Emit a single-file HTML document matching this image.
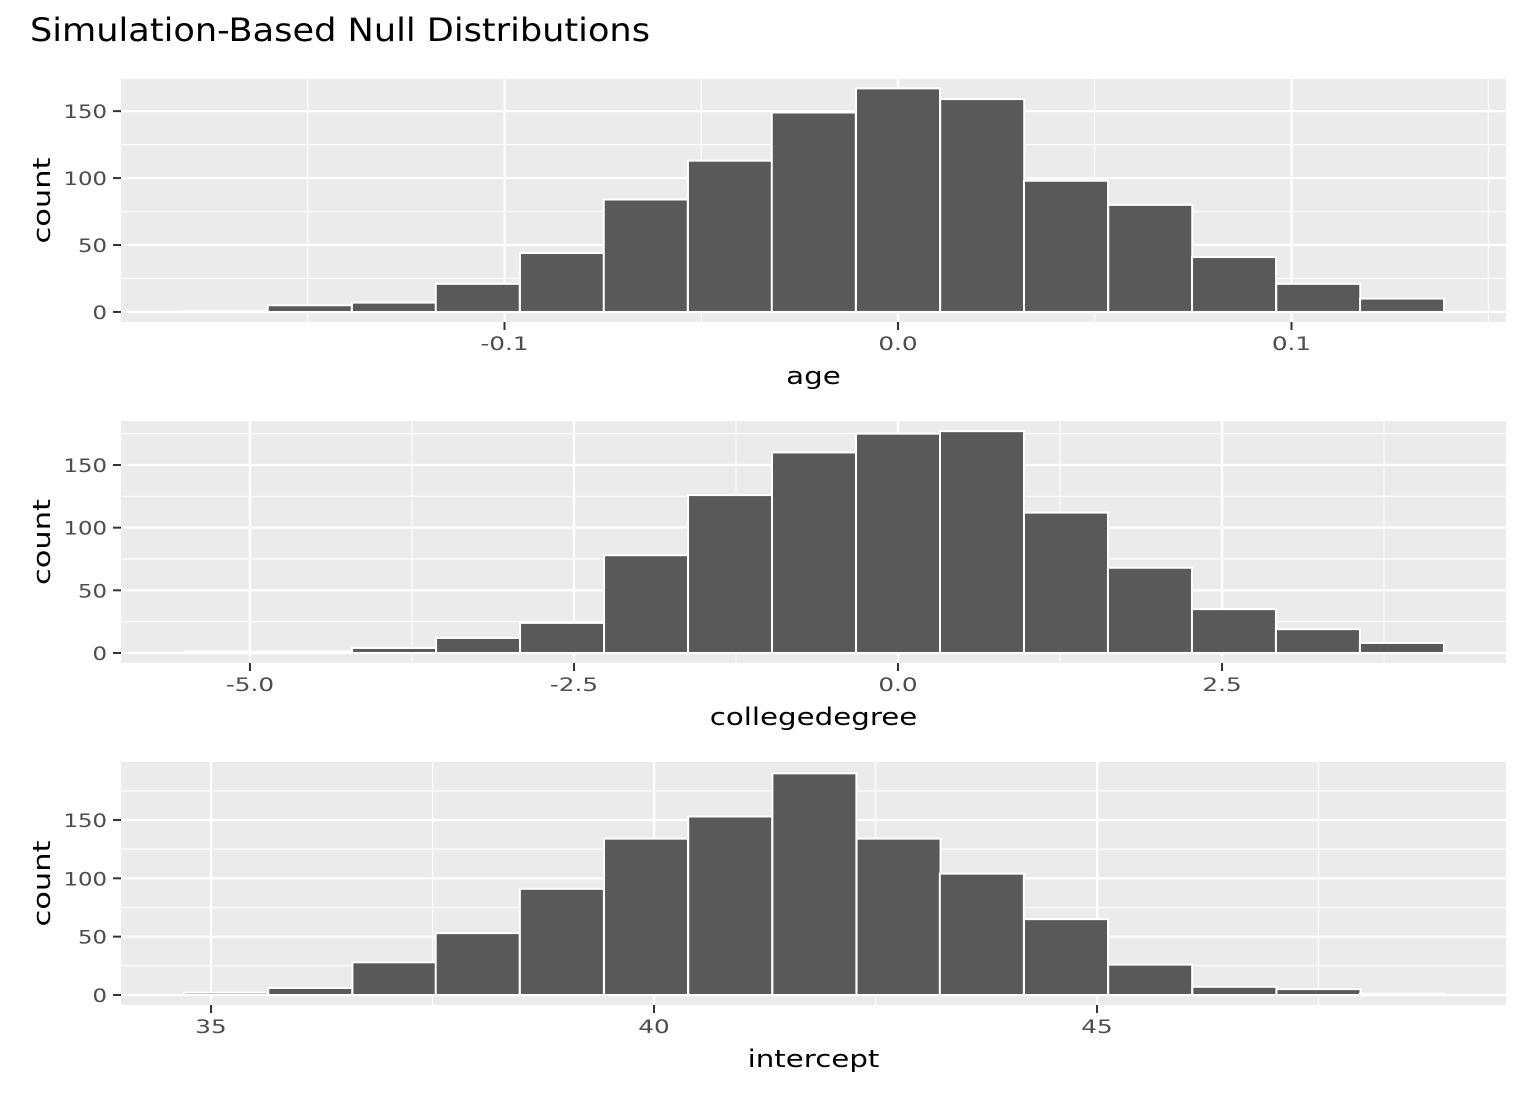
<!DOCTYPE html>
<html><head><meta charset="utf-8"><style>
body{margin:0;background:#fff;}
svg{display:block;font-family:"DejaVu Sans","Liberation Sans",sans-serif;}
</style></head><body>
<svg id="chart" width="1536" height="1104" viewBox="0 0 1536 1104" xmlns="http://www.w3.org/2000/svg">
<text id="title" x="30" y="41" font-size="32" fill="#000" textLength="620" lengthAdjust="spacingAndGlyphs">Simulation-Based Null Distributions</text>
</svg>
<script>
// Panel 1: age
const ageCenters = [-0.1708,-0.1495,-0.1281,-0.1068,-0.0854,-0.0641,-0.0427,-0.0214,0,0.0214,0.0427,0.0641,0.0854,0.1068,0.1281];
const ageCounts = [1,5,7,21,44,84,113,149,167,159,98,80,41,21,10];
const ageXTicks = [-0.1,0.0,0.1];
const ageXLabels = ["-0.1","0.0","0.1"];
// Panel 2: collegedegree
const colCenters = [-5.184,-4.536,-3.888,-3.240,-2.592,-1.944,-1.296,-0.648,0,0.648,1.296,1.944,2.592,3.240,3.888];
const colCounts = [1,1,4,12,24,78,126,160,175,177,112,68,35,19,8];
const colXTicks = [-5.0,-2.5,0.0,2.5];
const colXLabels = ["-5.0","-2.5","0.0","2.5"];
// Panel 3: intercept
const intCenters = [35.17,36.12,37.07,38.01,38.96,39.91,40.86,41.81,42.76,43.70,44.65,45.60,46.55,47.50,48.44];
const intCounts = [2,6,28,53,91,134,153,190,134,104,65,26,7,5,1];
const intXTicks = [35,40,45];
const intXLabels = ["35","40","45"];
const yTicks = [0,50,100,150];

const panels = [
  {name:"age", centers:ageCenters, counts:ageCounts, binw:0.02135, xt:ageXTicks, xl:ageXLabels, xd:[-0.19746,0.15451], yd:[-7.5,174], top:79, bot:322},
  {name:"collegedegree", centers:colCenters, counts:colCounts, binw:0.648, xt:colXTicks, xl:colXLabels, xd:[-5.995,4.691], yd:[-8,185.1], top:421, bot:663},
  {name:"intercept", centers:intCenters, counts:intCounts, binw:0.948, xt:intXTicks, xl:intXLabels, xd:[33.984,49.616], yd:[-8.6,199.7], top:762, bot:1005}
];
const NS="http://www.w3.org/2000/svg";
const svg=document.getElementById('chart');
const L=121,R=1506;
function mk(tag,attrs,parent){const e=document.createElementNS(NS,tag);for(const k in attrs)e.setAttribute(k,attrs[k]);(parent||svg).appendChild(e);return e;}
function widen(t,f){const w=t.getComputedTextLength();if(w>0){t.setAttribute('textLength',(w*f).toFixed(1));t.setAttribute('lengthAdjust','spacingAndGlyphs');}}
panels.forEach(p=>{
  const g=mk('g',{});
  
  
  const xs=v=>L+(v-p.xd[0])/(p.xd[1]-p.xd[0])*(R-L);
  const ys=v=>p.bot-(v-p.yd[0])/(p.yd[1]-p.yd[0])*(p.bot-p.top);
  const bg=mk('rect',{x:L,y:p.top,width:R-L,height:p.bot-p.top,fill:'#ebebeb'},g);
  
  
  const xstep=p.xt[1]-p.xt[0];
  for(let v=p.xt[0]-xstep*1.5;v<=p.xd[1];v+=xstep){if(v>=p.xd[0]){mk('line',{x1:xs(v),x2:xs(v),y1:p.top,y2:p.bot,stroke:'#fff','stroke-width':1.1},g);}}
  for(let v=25;v<=p.yd[1];v+=50){mk('line',{x1:L,x2:R,y1:ys(v),y2:ys(v),stroke:'#fff','stroke-width':1.1},g);}
  p.xt.forEach(v=>mk('line',{x1:xs(v),x2:xs(v),y1:p.top,y2:p.bot,stroke:'#fff','stroke-width':2.2},g));
  yTicks.forEach(v=>{if(v<=p.yd[1])mk('line',{x1:L,x2:R,y1:ys(v),y2:ys(v),stroke:'#fff','stroke-width':2.2},g);});
  p.centers.forEach((c,i)=>{
    const b=mk('rect',{x:xs(c-p.binw/2),y:ys(p.counts[i]),width:xs(c+p.binw/2)-xs(c-p.binw/2),height:ys(0)-ys(p.counts[i]),fill:'#595959',stroke:'#fff','stroke-width':2},g);
    
    
  });
  yTicks.forEach(v=>{
    mk('line',{x1:113,x2:121,y1:ys(v),y2:ys(v),stroke:'#333','stroke-width':2},g);
    const t=mk('text',{x:107,y:ys(v)+7,'text-anchor':'end','font-size':19,fill:'#4d4d4d'},g);
    t.textContent=String(v);
    
    
    widen(t,1.2);
  });
  p.xt.forEach((v,i)=>{
    mk('line',{x1:xs(v),x2:xs(v),y1:p.bot,y2:p.bot+8,stroke:'#333','stroke-width':2},g);
    const t=mk('text',{x:xs(v),y:p.bot+28,'text-anchor':'middle','font-size':19,fill:'#4d4d4d'},g);
    t.textContent=p.xl[i];
    
    
    widen(t,1.3);
  });
  const xt=mk('text',{x:(L+R)/2,y:p.bot+62,'text-anchor':'middle','font-size':24,fill:'#000'},g);
  xt.textContent=p.name;
  
  
  widen(xt,1.22);
  const cy=(p.top+p.bot)/2;
  const yt=mk('text',{x:cy,y:0,'text-anchor':'middle','font-size':24,fill:'#000',transform:'translate(0,'+(2*cy)+') rotate(-90) translate(0,'+(50-cy)+')'},g);
  yt.setAttribute('transform','rotate(-90 50 '+cy+')');
  yt.setAttribute('x',50);yt.setAttribute('y',cy);
  yt.textContent='count';
  
  
  widen(yt,1.27);
});
</script>
</body></html>
